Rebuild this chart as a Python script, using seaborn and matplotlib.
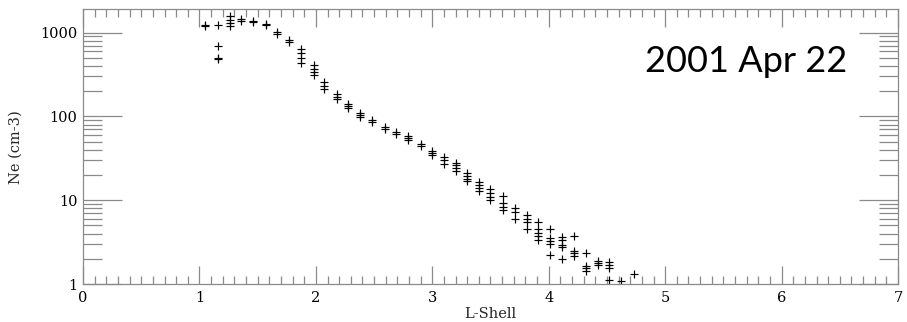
import numpy as np
import pandas as pd
import matplotlib
matplotlib.use("Agg")
import matplotlib.pyplot as plt
import seaborn as sns
from matplotlib.ticker import MultipleLocator, FixedLocator, FixedFormatter, LogLocator, NullFormatter

# ---- data ----
l_columns = [1.05, 1.16, 1.26, 1.36, 1.46, 1.57, 1.67, 1.77, 1.87, 1.98,
             2.07, 2.18, 2.28, 2.38, 2.48, 2.59, 2.69, 2.79, 2.90, 3.00,
             3.10, 3.20, 3.30, 3.40, 3.50, 3.61, 3.71, 3.81, 3.91, 4.01,
             4.11, 4.22, 4.32, 4.42, 4.52, 4.62, 4.73]
ne_columns = [
    [1220, 1200],
    [1220, 700, 500, 480],
    [1560, 1430, 1300, 1190],
    [1460, 1390],
    [1390, 1340],
    [1260, 1220],
    [1030, 970],
    [820, 780],
    [630, 570, 500, 440],
    [415, 370, 340, 310],
    [255, 230, 210],
    [183, 172, 162],
    [139, 133, 125],
    [109, 103, 99],
    [90, 86],
    [75, 71],
    [65, 61],
    [58, 55, 52],
    [47, 44],
    [38.6, 37, 35],
    [32.8, 30.2, 27.3],
    [28.1, 26.3, 24.5, 22.3],
    [21, 19.5, 18.1, 17],
    [16.5, 15.1, 14, 12.9],
    [13.5, 12.1, 10.8, 10.1],
    [11.3, 9.3, 8.3, 7.6],
    [8.0, 7.3, 6.05],
    [6.6, 6.05, 5.5, 4.5],
    [5.5, 4.5, 4.1, 3.76, 3.37],
    [4.5, 3.5, 3.28, 3.0, 2.23],
    [3.66, 3.34, 2.94, 2.78, 1.99],
    [3.7, 2.49, 2.34, 2.17],
    [2.32, 1.65, 1.55, 1.44],
    [1.9, 1.8, 1.7],
    [1.84, 1.7, 1.57, 1.12],
    [1.09],
    [1.3],
]
y_ticks = [1, 10, 100, 1000]
y_tick_labels = ["1", "10", "100", "1000"]
x_ticks = [0, 1, 2, 3, 4, 5, 6, 7]
title_text = "2001 Apr 22"
x_label = "L-Shell"
y_label = "Ne (cm-3)"

df = pd.DataFrame({
    "L": [l for l, vals in zip(l_columns, ne_columns) for _ in vals],
    "Ne": [v for vals in ne_columns for v in vals],
})

sns.set_style("ticks")
plt.rcParams["font.family"] = ["DejaVu Serif"]

W, H = 907, 322
fig = plt.figure(figsize=(W / 100, H / 100), dpi=100)
left, right, top, bottom = 83, 898, 9.3, 284
ax = fig.add_axes([left / W, 1 - bottom / H, (right - left) / W, (bottom - top) / H])

sns.scatterplot(data=df, x="L", y="Ne", marker="+", color="black",
                s=26, linewidth=0.85, ax=ax, legend=False)

ax.set_yscale("log")
ax.set_xlim(0, 7)
ax.set_ylim(1, 1900)

ax.xaxis.set_major_locator(FixedLocator(x_ticks))
ax.xaxis.set_minor_locator(MultipleLocator(0.1))
ax.yaxis.set_major_locator(FixedLocator(y_ticks))
ax.yaxis.set_major_formatter(FixedFormatter(y_tick_labels))
ax.yaxis.set_minor_locator(LogLocator(base=10, subs=np.arange(2, 10)))
ax.yaxis.set_minor_formatter(NullFormatter())

tick_col = "#8a8a8a"
ax.tick_params(axis="both", which="both", direction="in", top=True, right=True,
               color=tick_col, width=0.9, labelsize=10.5, labelcolor="black")
ax.tick_params(axis="x", which="major", length=13, pad=5)
ax.tick_params(axis="x", which="minor", length=6)
ax.tick_params(axis="y", which="major", length=28, pad=4)
ax.tick_params(axis="y", which="minor", length=14)
for sp in ax.spines.values():
    sp.set_color(tick_col)
    sp.set_linewidth(0.9)
    sp.set_visible(True)

ax.set_xlabel(x_label, fontsize=10.5)
ax.set_ylabel(y_label, fontsize=10.5)
ax.xaxis.set_label_coords(0.5, -0.085)
ax.yaxis.set_label_coords(-0.074, 0.5)

fig.text(746 / W, 1 - 71.7 / H, title_text, fontsize=26, family=["Lato", "DejaVu Sans"],
         ha="center", va="baseline", color="black")

fig.savefig("out.png", dpi=100)
